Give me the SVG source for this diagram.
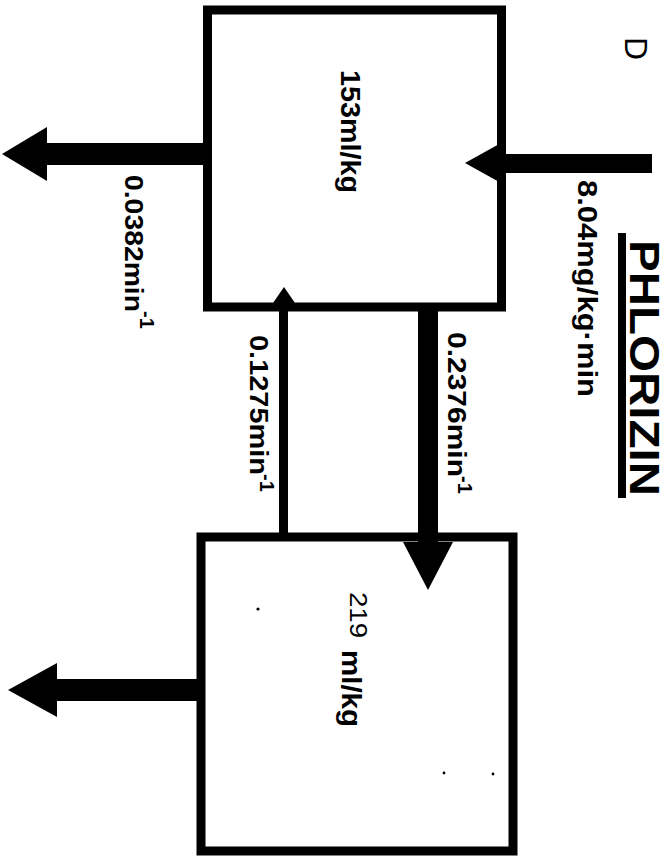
<svg xmlns="http://www.w3.org/2000/svg" width="670" height="856" viewBox="0 0 670 856">
  <style>
    .box { fill: #fff; stroke: #000; stroke-width: 9; }
    .flow { fill: #000; stroke: none; }
    .lbl { font-family: "Liberation Sans", Arial, sans-serif; font-weight: bold; fill: #000; }
    .reg { font-family: "Liberation Sans", Arial, sans-serif; font-weight: normal; fill: #000; }
    .speck { fill: #000; }
  </style>
  <rect width="670" height="856" fill="#fff"/>

  <!-- panel letter and title (all text runs top-to-bottom) -->
  <g id="title">
    <text class="reg" font-size="32" transform="translate(625,37) rotate(90)">D</text>
    <text class="lbl" font-size="42" textLength="256" lengthAdjust="spacingAndGlyphs" transform="translate(630,240) rotate(90)">PHLORIZIN</text>
    <rect x="618" y="233" width="8" height="265" fill="#000"/>
  </g>

  <!-- compartment 1 -->
  <g id="central">
    <rect class="box" x="207.5" y="10" width="294" height="297"/>
    <text class="lbl" font-size="27" textLength="123" lengthAdjust="spacingAndGlyphs" transform="translate(341,70) rotate(90)">153ml/kg</text>
  </g>

  <!-- compartment 2 -->
  <g id="peripheral">
    <rect class="box" x="201" y="537" width="312" height="314"/>
    <text class="reg" font-size="24" textLength="46" lengthAdjust="spacingAndGlyphs" transform="translate(350,592) rotate(90)">219</text>
    <text class="lbl" font-size="28" textLength="77" lengthAdjust="spacingAndGlyphs" transform="translate(342,650) rotate(90)">ml/kg</text>
    <circle class="speck" cx="258" cy="609" r="1.6"/>
    <circle class="speck" cx="444" cy="773" r="1.4"/>
    <circle class="speck" cx="493" cy="774" r="1.4"/>
  </g>

  <!-- flows between and out of the compartments -->
  <g id="connectors">
    <!-- infusion into compartment 1 -->
    <polygon class="flow" points="652,154 501,154 501,143 465,163 501,183 501,173 652,173"/>
    <!-- elimination from compartment 1 -->
    <polygon class="flow" points="204,143 47,143 47,127 2,154 47,181 47,165 204,165"/>
    <!-- loss from compartment 2 -->
    <polygon class="flow" points="198,679 57,679 57,663 8,690 57,717 57,701 198,701"/>
    <!-- transfer 1 -> 2 -->
    <polygon class="flow" points="418,307 438,307 438,542 453,542 428,590 403,542 418,542"/>
    <!-- transfer 2 -> 1 -->
    <polygon class="flow" points="279,537 288,537 288,303 295,303 284,287 273,303 279,303"/>
  </g>

  <!-- rate labels -->
  <g id="labels">
    <text class="lbl" font-size="28" textLength="217" lengthAdjust="spacingAndGlyphs" transform="translate(578,180) rotate(90)">8.04mg/kg·min</text>
    <text class="lbl" font-size="26" textLength="137" lengthAdjust="spacingAndGlyphs" transform="translate(125,175) rotate(90)">0.0382min</text>
    <text class="lbl" font-size="20" transform="translate(140,311) rotate(90)">-1</text>
    <text class="lbl" font-size="26" textLength="140" lengthAdjust="spacingAndGlyphs" transform="translate(250,335) rotate(90)">0.1275min</text>
    <text class="lbl" font-size="20" transform="translate(260,474) rotate(90)">-1</text>
    <text class="lbl" font-size="26" textLength="145" lengthAdjust="spacingAndGlyphs" transform="translate(448,332) rotate(90)">0.2376min</text>
    <text class="lbl" font-size="20" transform="translate(458,476) rotate(90)">-1</text>
  </g>
</svg>
